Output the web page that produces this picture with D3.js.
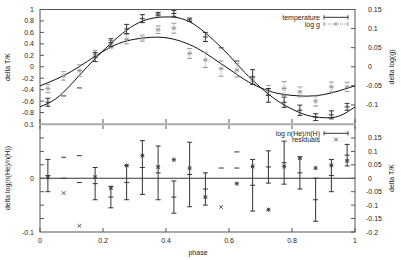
<!DOCTYPE html>
<html>
<head>
<meta charset="utf-8">
<script src="https://cdn.jsdelivr.net/npm/d3@7"></script>
<style>
  body { margin: 0; background: #fff; }
  text { font-family: "Liberation Sans", Arial, sans-serif; font-size: 7px; fill: #222; }
</style>
</head>
<body>
<script>
// fitted curves, sampled every 0.05 in phase
var curvePhase = [0, 0.05, 0.1, 0.15, 0.2, 0.25, 0.3, 0.35, 0.4, 0.45, 0.5,
                  0.55, 0.6, 0.65, 0.7, 0.75, 0.8, 0.85, 0.9, 0.95, 1];
var tempFit = [-0.70, -0.56, -0.30, 0.00, 0.28, 0.53, 0.73, 0.84, 0.87, 0.84, 0.70,
               0.47, 0.20, -0.10, -0.36, -0.58, -0.74, -0.85, -0.89, -0.86, -0.70];
var loggFit = [-0.050, -0.033, -0.012, 0.014, 0.040, 0.061, 0.072, 0.077, 0.076, 0.066, 0.048,
               0.022, -0.006, -0.034, -0.055, -0.069, -0.075, -0.077, -0.073, -0.063, -0.050];

// binned measurements
var binPhase = [0.025, 0.075, 0.125, 0.175, 0.225, 0.275, 0.325, 0.375, 0.425, 0.475,
                0.525, 0.575, 0.625, 0.675, 0.725, 0.775, 0.825, 0.875, 0.925, 0.975];
var tempVal = [-0.62, -0.51, -0.37, 0.17, 0.42, 0.66, 0.84, 0.92, 0.93, 0.82,
               0.52, 0.33, 0.10, -0.18, -0.50, -0.62, -0.76, -0.88, -0.84, -0.70];
var tempErr = [0.07, 0, 0, 0.08, 0.07, 0.08, 0.07, 0.03, 0.05, 0.03,
               0.08, 0, 0, 0.13, 0.12, 0.09, 0.09, 0.06, 0.07, 0.06];
var loggVal = [-0.057, -0.024, -0.010, 0.033, 0.059, 0.072, 0.075, 0.097, 0.101, 0.035,
               0.018, -0.005, -0.009, -0.035, -0.061, -0.057, -0.066, -0.090, -0.053, -0.053];
var loggErr = [0.011, 0.011, 0.015, 0.010, 0.010, 0.012, 0.008, 0.010, 0.013, 0.013,
               0.020, 0.020, 0.018, 0.010, 0.012, 0.018, 0.013, 0.013, 0.013, 0.012];

var heVal = [0.005, 0.000, -0.008, -0.010, -0.035, -0.008, 0.020, 0.010, -0.035, 0.007,
             -0.020, 0.019, 0.019, -0.013, 0.021, 0.029, 0.010, -0.040, 0.005, 0.043];
var heErr = [0.030, 0, 0, 0.030, 0.020, 0.032, 0.050, 0.050, 0.030, 0.060,
             0.030, 0, 0, 0.048, 0.030, 0.040, 0.030, 0.040, 0.030, 0.020];
var heExtra = [[0.075, 0.039], [0.125, 0.042], [0.625, 0.049]];   // stray zero-error marks

var residPhase = [0.075, 0.125, 0.575];
var residVal = [-0.055, -0.177, -0.107];
var starPhase = [0.025, 0.175, 0.225, 0.275, 0.325, 0.375, 0.425, 0.475, 0.525, 0.625,
                 0.675, 0.725, 0.775, 0.825, 0.875, 0.925, 0.975];
var starVal = [0.004, 0.004, -0.036, 0.047, 0.084, 0.042, 0.069, 0.038, -0.070, -0.020,
               0.044, -0.117, 0.044, 0.075, 0.038, 0.048, 0.065];

var xTicks = [0, 0.2, 0.4, 0.6, 0.8, 1];
var tTicks = [1, 0.8, 0.6, 0.4, 0.2, 0, -0.2, -0.4, -0.6, -0.8];
var gTicks = [0.15, 0.1, 0.05, 0, -0.05, -0.1];
var heTicks = [0.1, 0, -0.1];
var rTicks = [0.15, 0.1, 0.05, 0, -0.05, -0.1, -0.15, -0.2];

var W = 401, H = 260;
var svg = d3.select('body').append('svg').attr('width', W).attr('height', H);

var x = d3.scaleLinear().domain([0, 1]).range([40, 355]);
var yT = d3.scaleLinear().domain([-1, 1]).range([124, 9.5]);
var yG = d3.scaleLinear().domain([-0.15, 0.15]).range([124, 9.5]);
var yHe = d3.scaleLinear().domain([-0.1, 0.1]).range([232, 124.5]);
var yR = d3.scaleLinear().domain([-0.2, 0.2]).range([232, 124.5]);

var dark = '#333', light = '#999', frame = '#555';

// frames
svg.append('rect').attr('x', 40).attr('y', 9.5).attr('width', 315).attr('height', 222.5)
    .attr('fill', 'none').attr('stroke', frame);
svg.append('line').attr('x1', 40).attr('x2', 355).attr('y1', 124.3).attr('y2', 124.3)
    .attr('stroke', '#aaa').attr('stroke-width', 2);
// zero line of residual panel
svg.append('line').attr('x1', 40).attr('x2', 355).attr('y1', yHe(0)).attr('y2', yHe(0))
    .attr('stroke', dark);

// ticks
var tk = svg.append('g').attr('stroke', frame);
xTicks.forEach(function (t) {
    tk.append('line').attr('x1', x(t)).attr('x2', x(t)).attr('y1', 123).attr('y2', 119);
    tk.append('line').attr('x1', x(t)).attr('x2', x(t)).attr('y1', 125.5).attr('y2', 129);
    tk.append('line').attr('x1', x(t)).attr('x2', x(t)).attr('y1', 232).attr('y2', 228);
    svg.append('text').attr('x', x(t)).attr('y', 243).attr('text-anchor', 'middle').text(t);
});
tTicks.forEach(function (t) {
    tk.append('line').attr('x1', 40).attr('x2', 44).attr('y1', yT(t)).attr('y2', yT(t));
    svg.append('text').attr('x', 34).attr('y', yT(t) + 2.5).attr('text-anchor', 'end').text(t);
});
gTicks.forEach(function (t) {
    tk.append('line').attr('x1', 355).attr('x2', 351).attr('y1', yG(t)).attr('y2', yG(t));
    svg.append('text').attr('x', t < 0 ? 366 : 368).attr('y', yG(t) + 2.5).text(t);
});
d3.range(-0.075, 0.1, 0.025).forEach(function (t) {
    tk.append('line').attr('x1', 40).attr('x2', 44).attr('y1', yHe(t)).attr('y2', yHe(t));
});
heTicks.forEach(function (t) {
    svg.append('text').attr('x', 34).attr('y', yHe(t) + 2.5).attr('text-anchor', 'end').text(t);
});
rTicks.forEach(function (t) {
    tk.append('line').attr('x1', 355).attr('x2', 351).attr('y1', yR(t)).attr('y2', yR(t));
    svg.append('text').attr('x', t < 0 ? 366 : 368).attr('y', yR(t) + 2.5).text(t);
});

// axis titles
function vlabel(px, py, s) {
    svg.append('text').attr('transform', 'translate(' + px + ',' + py + ') rotate(-90)')
        .attr('text-anchor', 'middle').text(s);
}
vlabel(10, 67, 'delta T/K');
vlabel(394, 67, 'delta log(g)');
vlabel(10, 178, 'delta log(n(He)/n(H))');
vlabel(394, 178, 'delta T/K');
svg.append('text').attr('x', 198).attr('y', 255).attr('text-anchor', 'middle').text('phase');

// fitted curves
var lineT = d3.line().x(function (d, i) { return x(curvePhase[i]); })
    .y(function (d) { return yT(d); }).curve(d3.curveNatural);
var lineG = d3.line().x(function (d, i) { return x(curvePhase[i]); })
    .y(function (d) { return yG(d); }).curve(d3.curveNatural);
svg.append('path').attr('d', lineT(tempFit)).attr('fill', 'none').attr('stroke', '#111');
svg.append('path').attr('d', lineG(loggFit)).attr('fill', 'none').attr('stroke', '#111');

// helpers for symbols
function errbar(g, cx, cy, lo, hi, col, dash) {
    var s = g.append('g').attr('stroke', col).attr('fill', 'none');
    if (Math.abs(hi - lo) > 0.5) {
        s.append('line').attr('x1', cx).attr('x2', cx).attr('y1', lo).attr('y2', hi)
            .attr('stroke-dasharray', dash || null);
        s.append('line').attr('x1', cx - 2.5).attr('x2', cx + 2.5).attr('y1', lo).attr('y2', lo);
        s.append('line').attr('x1', cx - 2.5).attr('x2', cx + 2.5).attr('y1', hi).attr('y2', hi);
    }
    s.append('line').attr('x1', cx - 2.5).attr('x2', cx + 2.5).attr('y1', cy).attr('y2', cy);
}
function cross(g, cx, cy, col) {
    g.append('path').attr('d', 'M' + (cx - 1.8) + ',' + (cy - 1.8) + 'L' + (cx + 1.8) + ',' + (cy + 1.8) +
        'M' + (cx - 1.8) + ',' + (cy + 1.8) + 'L' + (cx + 1.8) + ',' + (cy - 1.8))
        .attr('stroke', col).attr('fill', 'none');
}
function star(g, cx, cy, col) {
    cross(g, cx, cy, col);
    g.append('path').attr('d', 'M' + (cx - 2) + ',' + cy + 'H' + (cx + 2) + 'M' + cx + ',' + (cy - 2) + 'V' + (cy + 2))
        .attr('stroke', col).attr('fill', 'none');
}

// top panel points
var pts = svg.append('g');
binPhase.forEach(function (p, i) {
    var cx = x(p);
    errbar(pts, cx, yG(loggVal[i]), yG(loggVal[i] - loggErr[i]), yG(loggVal[i] + loggErr[i]), light, '1,1');
    cross(pts, cx, yG(loggVal[i]), light);
    errbar(pts, cx, yT(tempVal[i]), yT(tempVal[i] - tempErr[i]), yT(tempVal[i] + tempErr[i]), dark);
});

// bottom panel points
binPhase.forEach(function (p, i) {
    errbar(pts, x(p), yHe(heVal[i]), yHe(heVal[i] - heErr[i]), yHe(heVal[i] + heErr[i]), dark);
});
heExtra.forEach(function (d) {
    errbar(pts, x(d[0]), yHe(d[1]), yHe(d[1]), yHe(d[1]), dark);
});
residPhase.forEach(function (p, i) { cross(pts, x(p), yR(residVal[i]), '#555'); });
starPhase.forEach(function (p, i) { star(pts, x(p), yR(starVal[i]), '#444'); });

// legends
function legend(py, label, col, dash, mark) {
    svg.append('text').attr('x', 320).attr('y', py + 2.5).attr('text-anchor', 'end').text(label);
    if (mark === 'x') { cross(svg, 336, py, '#555'); return; }
    var g = svg.append('g').attr('stroke', col);
    g.append('line').attr('x1', 324).attr('x2', 348).attr('y1', py).attr('y2', py).attr('stroke-dasharray', dash || null);
    g.append('line').attr('x1', 324).attr('x2', 324).attr('y1', py - 2).attr('y2', py + 2);
    g.append('line').attr('x1', 348).attr('x2', 348).attr('y1', py - 2).attr('y2', py + 2);
    if (mark === 'xc') cross(svg, 336, py, col);
}
legend(17.3, 'temperature', dark);
legend(24, 'log g', light, '1,1', 'xc');
legend(133.3, 'log n(He)/n(H)', dark);
legend(139.5, 'residuals', null, null, 'x');
</script>
</body>
</html>
